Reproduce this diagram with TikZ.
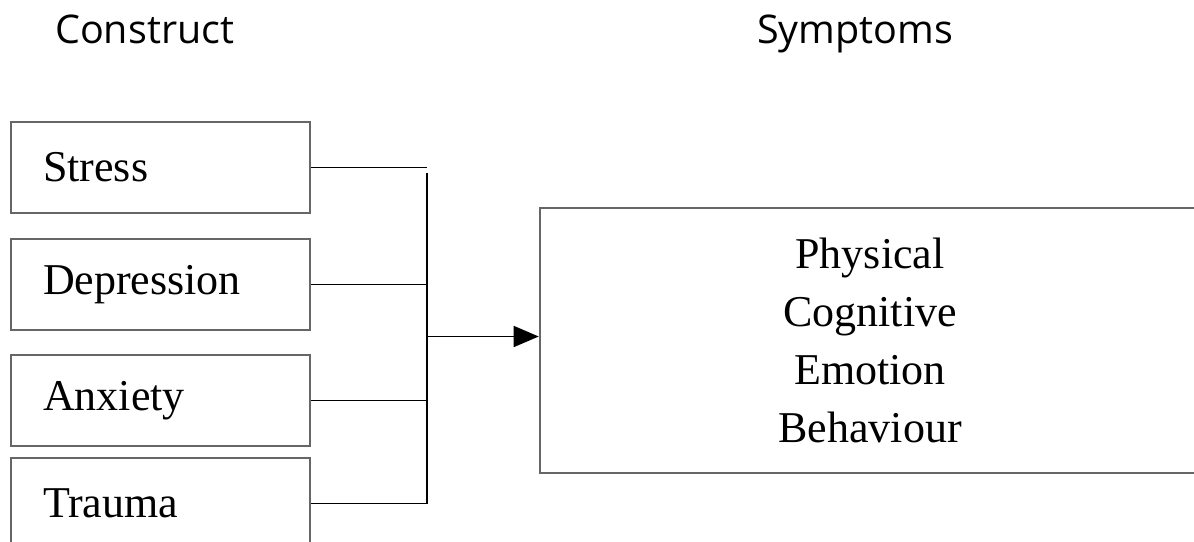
\documentclass[tikz,border=0pt]{standalone}
\usepackage{fontspec}
\setmainfont{Liberation Serif}
\newfontfamily\headfont{Open Sans}
\usetikzlibrary{arrows.meta}

\begin{document}
\begin{tikzpicture}[x=1pt, y=-1pt,
    caja/.style={draw=black!60, line width=2.6pt, minimum width=299pt, minimum height=91pt,
        inner xsep=32pt, text width=235pt, align=left, font=\fontsize{44}{50}\selectfont},
    linea/.style={line width=1.6pt},
    titulo/.style={anchor=base west, inner sep=0pt, font=\headfont\fontsize{39.5}{44}\selectfont}]
    \useasboundingbox (0,0) rectangle (1194,541);
    \clip (0,0) rectangle (1194,541);

    % Titulos
    \node[titulo] (construct) at (55,43) {Construct};
    \node[titulo] (symptoms) at (757,43) {Symptoms};

    % Cajas
    \node[caja] (stress) at (160.5,167.5) {Stress};
    \node[caja] (depression) at (160.5,284.5) {Depression};
    \node[caja] (anxiety) at (160.5,400.5) {Anxiety};
    \node[caja] (trauma) at (160.5,503.5) {Trauma};

    \node[draw=black!60, line width=2.6pt, minimum width=660pt, minimum height=265pt,
        align=center, font=\fontsize{44}{58}\selectfont] (sintomas) at (870,340.5)
        {Physical\\Cognitive\\Emotion\\Behaviour};

    % Conexiones
    \coordinate (bus) at (427,173);
    \draw[linea] (stress.east) -- (stress.east -| bus);
    \draw[linea] (depression.east) -- (depression.east -| bus);
    \draw[linea] (anxiety.east) -- (anxiety.east -| bus);
    \draw[linea] (trauma.east) -- (trauma.east -| bus) -- (bus);
    \draw[linea, -{Triangle[length=25pt, width=21pt]}] ([yshift=4pt]sintomas.west -| bus) -- ([yshift=4pt]sintomas.west);

\end{tikzpicture}
\end{document}
